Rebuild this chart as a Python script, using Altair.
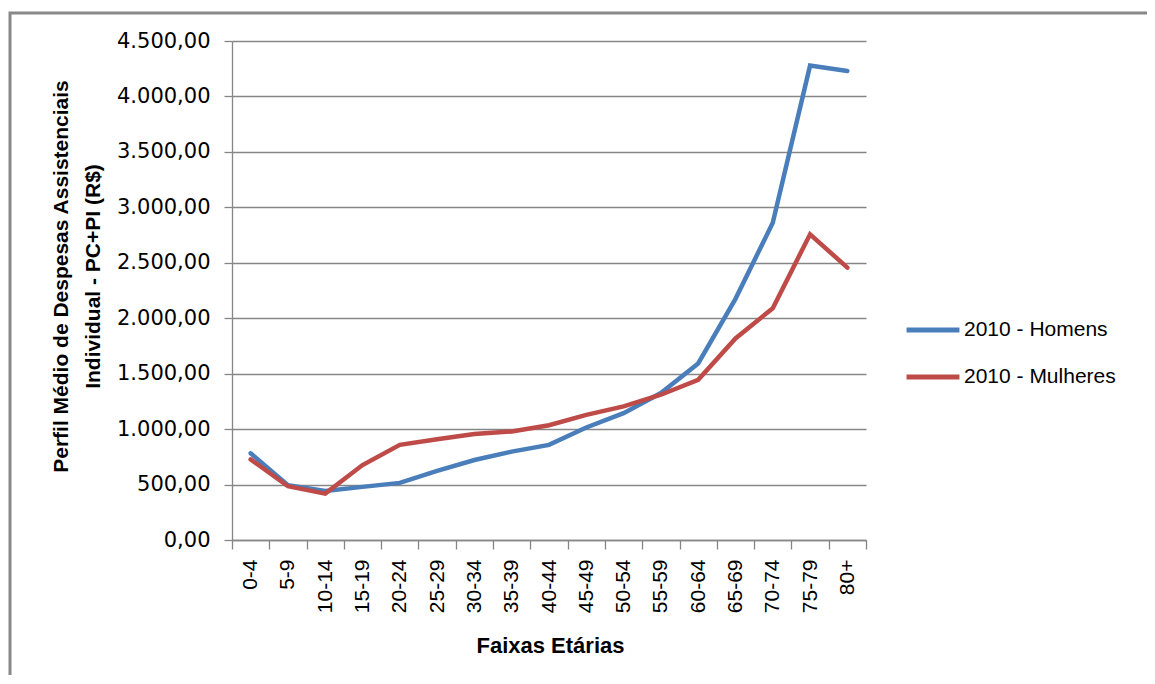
import altair as alt
import pandas as pd

ages = ["0-4", "5-9", "10-14", "15-19", "20-24", "25-29", "30-34", "35-39", "40-44",
        "45-49", "50-54", "55-59", "60-64", "65-69", "70-74", "75-79", "80+"]
homens = [782, 495, 442, 479, 515, 624, 721, 797, 858, 1015, 1144, 1325, 1592, 2175, 2860, 4278, 4230]
mulheres = [727, 485, 418, 676, 858, 909, 955, 979, 1035, 1128, 1205, 1310, 1445, 1818, 2090, 2757, 2456]
series_names = ["2010 - Homens", "2010 - Mulheres"]
series_colors = ["#4A7EBB", "#BE4B48"]
y_ticks = [0, 500, 1000, 1500, 2000, 2500, 3000, 3500, 4000, 4500]

rows = []
for a, h, m in zip(ages, homens, mulheres):
    rows.append({"faixa": a, "serie": series_names[0], "valor": h})
    rows.append({"faixa": a, "serie": series_names[1], "valor": m})
df = pd.DataFrame(rows)

W, H = 634, 499
GRID = "#868686"
br_fmt = "replace(replace(replace(format(datum.value, ',.2f'), ',', '#'), '.', ','), '#', '.')"

lines = alt.Chart(df).mark_line(strokeWidth=4.5, clip=False, strokeCap="round", strokeJoin="miter").encode(
    x=alt.X("faixa:N", sort=ages, bandPosition=0.5,
            scale=alt.Scale(type="band", paddingInner=0, paddingOuter=0),
            axis=alt.Axis(title="Faixas Etárias", labelAngle=270, labelAlign="right",
                          labelBaseline="middle", labelFont="Liberation Sans", labelFontSize=21,
                          labelColor="#000000", labelPadding=10, tickSize=9, tickBand="extent",
                          tickColor=GRID, tickWidth=1.3, domainColor=GRID, domainWidth=1.3,
                          grid=False, titleFont="Liberation Sans", titleFontSize=22,
                          titleFontWeight="bold", titleColor="#000000", titleX=318, titleY=105,
                          titleBaseline="middle", titleAlign="center")),
    y=alt.Y("valor:Q", scale=alt.Scale(domain=[0, 4500], nice=False),
            axis=alt.Axis(values=y_ticks, labelExpr=br_fmt, labelFont="DejaVu Sans",
                          labelFontSize=21, labelColor="#000000", labelPadding=14, tickSize=8,
                          tickColor=GRID, tickWidth=1.3, domainColor=GRID, domainWidth=1.3,
                          grid=True, gridColor=GRID, gridWidth=1.3,
                          title=["Perfil Médio de Despesas Assistenciais", "Individual - PC+PI (R$)"],
                          titleFont="Liberation Sans", titleFontSize=21, titleFontWeight="bold",
                          titleColor="#000000", titleAngle=270, titleAlign="center",
                          titleBaseline="middle", titleX=-171, titleY=235, titleLineHeight=32)),
    color=alt.Color("serie:N", scale=alt.Scale(domain=series_names, range=series_colors),
                    legend=alt.Legend(title=None, orient="none", legendX=672, legendY=260,
                                      symbolType="stroke", symbolSize=2800, symbolStrokeWidth=5,
                                      labelFont="Liberation Sans", labelFontSize=21,
                                      labelColor="#000000", labelOffset=2, rowPadding=8)),
)

frame = alt.Chart(pd.DataFrame({"k": [0]})).mark_rect(
    fill=None, stroke="#888888", strokeWidth=3, clip=False
).encode(
    x=alt.value(-222), y=alt.value(-28), x2=alt.value(1200), y2=alt.value(800)
)

chart = alt.layer(frame, lines).properties(
    width=W, height=H,
    autosize=alt.AutoSizeParams(type="none"),
    padding={"left": 224, "top": 33, "right": 281, "bottom": 135},
).configure_view(stroke=None)

chart.save("out.html", embed_options={"renderer": "svg", "actions": False})
